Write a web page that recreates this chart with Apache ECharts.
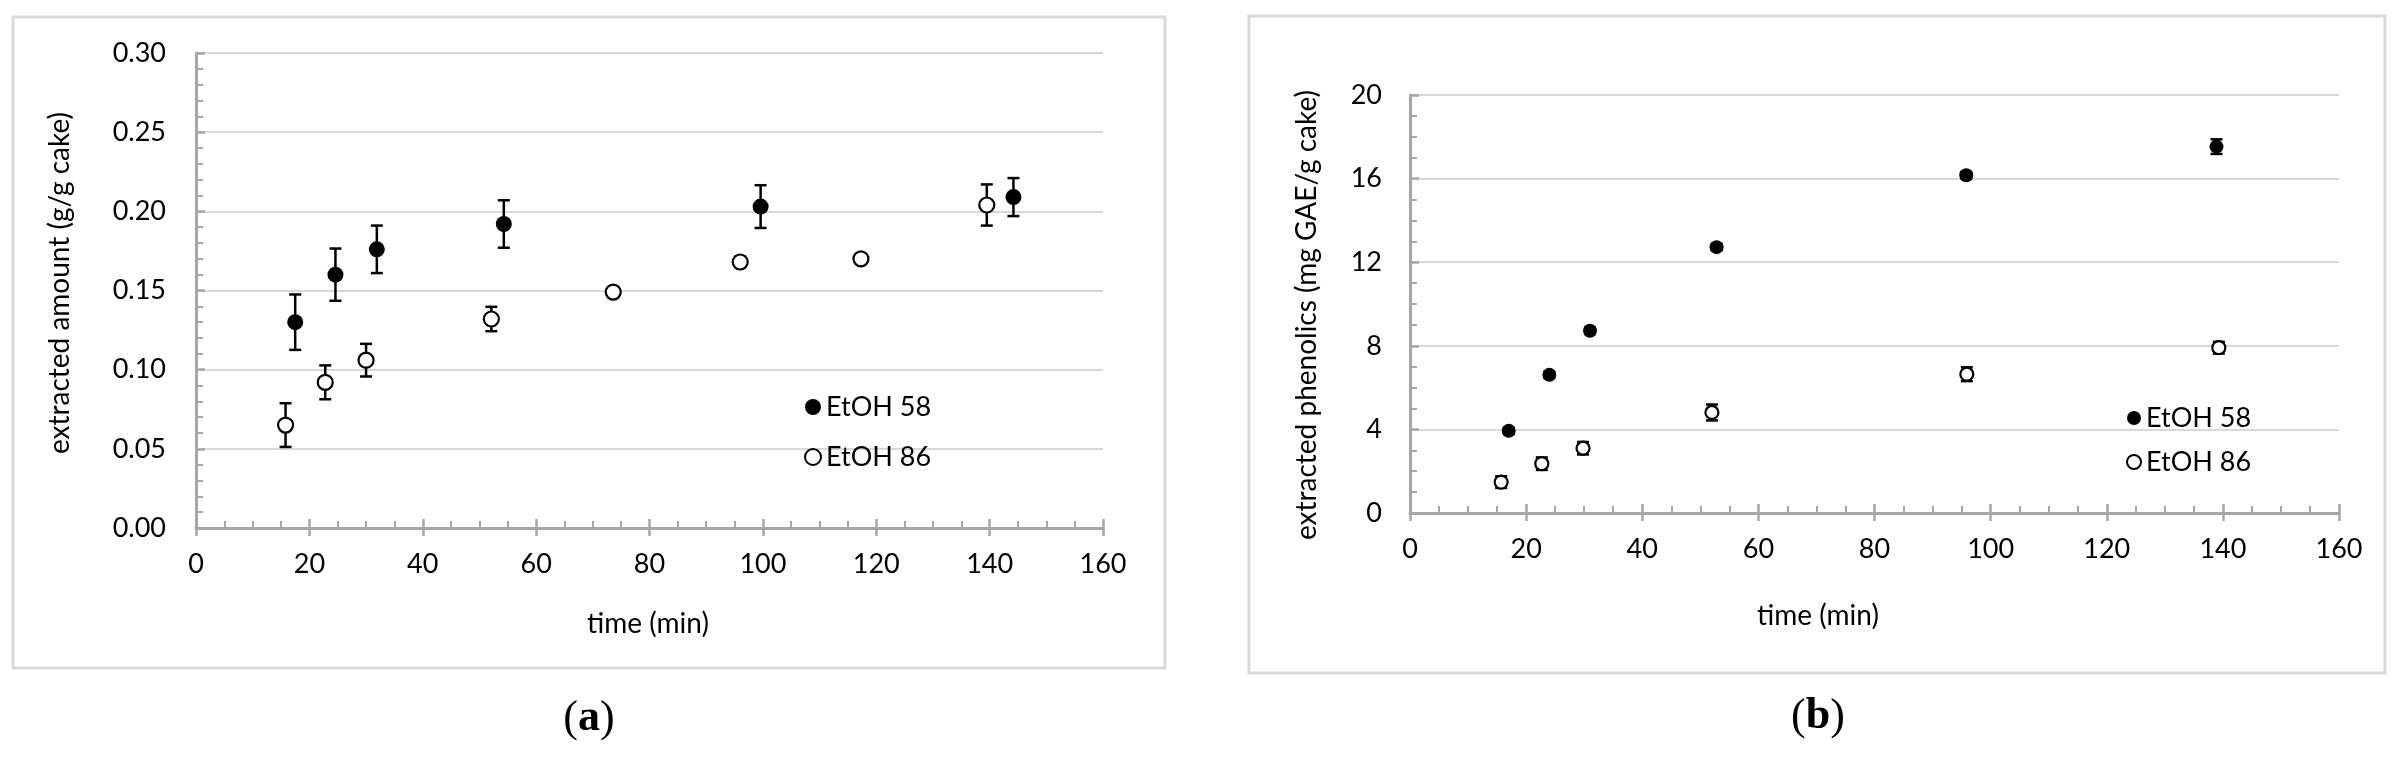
<!DOCTYPE html>
<html>
<head>
<meta charset="utf-8">
<script src="https://cdn.jsdelivr.net/npm/echarts@6/dist/echarts.min.js"></script>
<style>
    html, body { margin: 0; padding: 0; background: #fff; }
    #wrap { width: 2400px; height: 760px; position: relative; }
    .panel { position: absolute; top: 0; width: 1200px; height: 760px; }
</style>
</head>
<body>
<div id="wrap">
    <div id="chartA" class="panel" style="left:0"></div>
    <div id="chartB" class="panel" style="left:1200px"></div>
</div>
<script>
// (a) extracted amount, g/g cake
const timeA58 = [17.5, 24.6, 31.9, 54.3, 99.6, 144.2];
const amountA58 = [0.130, 0.160, 0.176, 0.192, 0.203, 0.209];
const errA58 = [0.0175, 0.0165, 0.015, 0.015, 0.0135, 0.012];

const timeA86 = [15.8, 22.8, 30.0, 52.1, 73.6, 96.0, 117.3, 139.5];
const amountA86 = [0.065, 0.092, 0.106, 0.132, 0.149, 0.168, 0.170, 0.204];
const errA86 = [0.0138, 0.0107, 0.0103, 0.0077, 0.002, 0.0034, 0.002, 0.013];

// (b) extracted phenolics, mg GAE/g cake
const timeB58 = [17.0, 24.0, 31.0, 52.8, 95.8, 138.9];
const phenB58 = [3.93, 6.61, 8.72, 12.72, 16.16, 17.53];
const errB58 = [0.15, 0.15, 0.15, 0.15, 0.15, 0.35];

const timeB86 = [15.7, 22.7, 29.8, 52.0, 95.9, 139.3];
const phenB86 = [1.48, 2.36, 3.10, 4.81, 6.64, 7.91];
const errB86 = [0.28, 0.3, 0.3, 0.38, 0.33, 0.28];

const seriesNames = ['EtOH 58', 'EtOH 86'];

const FONT = 'Lato, "Open Sans", sans-serif';
const SERIF = '"Liberation Serif", "DejaVu Serif", serif';
const AXIS_GREY = '#a6a6a6';
const GRID_GREY = '#d9d9d9';

function pairs(xs, ys) {
    return xs.map((x, i) => [x, ys[i]]);
}

function errRows(xs, ys, es) {
    return xs.map((x, i) => [x, ys[i] - es[i], ys[i] + es[i]]);
}

function errorBarSeries(data, cap) {
    return {
        type: 'custom',
        data: data,
        z: 1,
        silent: true,
        encode: {x: 0, y: [1, 2]},
        renderItem: function (params, api) {
            let x = api.value(0);
            let lo = api.coord([x, api.value(1)]);
            let hi = api.coord([x, api.value(2)]);
            let st = {stroke: '#000', lineWidth: 2.5};
            return {
                type: 'group',
                children: [
                    {type: 'line', shape: {x1: lo[0], y1: lo[1], x2: hi[0], y2: hi[1]}, style: st},
                    {type: 'line', shape: {x1: lo[0] - cap, y1: lo[1], x2: lo[0] + cap, y2: lo[1]}, style: st},
                    {type: 'line', shape: {x1: hi[0] - cap, y1: hi[1], x2: hi[0] + cap, y2: hi[1]}, style: st}
                ]
            };
        }
    };
}

function titleText(x, y, text, rotate) {
    return {
        type: 'text',
        x: x,
        y: y,
        rotation: rotate ? Math.PI / 2 : 0,
        style: {
            text: text,
            fill: '#000',
            fontFamily: FONT,
            fontSize: 28,
            align: 'center',
            verticalAlign: 'middle'
        }
    };
}

function buildOption(cfg) {
    let xBase = {
        type: 'value',
        min: 0,
        max: 160,
        interval: 20,
        position: 'bottom',
        splitLine: {show: false}
    };
    return {
        animation: false,
        backgroundColor: '#fff',
        textStyle: {fontFamily: FONT},
        grid: {left: cfg.grid.left, top: cfg.grid.top, width: cfg.grid.width, height: cfg.grid.height},
        legend: {
            data: seriesNames,
            orient: 'vertical',
            left: cfg.legend.left,
            top: cfg.legend.top,
            itemWidth: cfg.legend.icon,
            itemHeight: cfg.legend.icon,
            itemGap: cfg.legend.gap,
            selectedMode: false,
            textStyle: {fontFamily: FONT, fontSize: 27, color: '#000', lineHeight: 30}
        },
        xAxis: [
            Object.assign({}, xBase, {
                axisLine: {lineStyle: {color: AXIS_GREY, width: 3}},
                axisTick: {inside: true, length: 9, lineStyle: {color: AXIS_GREY, width: 2.5}},
                minorTick: {show: true, splitNumber: 4, length: 7, lineStyle: {color: AXIS_GREY, width: 2}},
                axisLabel: {fontFamily: FONT, fontSize: 27, color: '#000', margin: 23}
            }),
            // outer half of the major ticks, so they cross the axis line
            Object.assign({}, xBase, {
                axisLine: {show: false},
                axisTick: {inside: false, length: 8, lineStyle: {color: AXIS_GREY, width: 2.5}},
                axisLabel: {show: false}
            })
        ],
        yAxis: {
            type: 'value',
            min: 0,
            max: cfg.yMax,
            interval: cfg.yStep,
            axisLine: {show: true, lineStyle: {color: AXIS_GREY, width: 3}},
            axisTick: {show: true, inside: true, length: 9, lineStyle: {color: AXIS_GREY, width: 2.5}},
            minorTick: {show: true, splitNumber: cfg.yMinor, length: 7, lineStyle: {color: AXIS_GREY, width: 2}},
            splitLine: {show: true, lineStyle: {color: GRID_GREY, width: 2}},
            axisLabel: {
                fontFamily: FONT, fontSize: 27, color: '#000', margin: cfg.yLabelGap,
                formatter: cfg.yFormat
            }
        },
        graphic: [
            {
                type: 'rect',
                shape: cfg.frame,
                style: {fill: 'none', stroke: GRID_GREY, lineWidth: 3},
                z: -1
            },
            titleText(cfg.yTitle.x, cfg.yTitle.y, cfg.yTitle.text, true),
            titleText(cfg.xTitle.x, cfg.xTitle.y, 'time (min)', false),
            {
                type: 'text',
                x: cfg.caption.x,
                y: cfg.caption.y,
                style: {
                    text: '{p|(}{b|' + cfg.caption.letter + '}{p|)}',
                    align: 'center',
                    verticalAlign: 'middle',
                    rich: {
                        p: {fontFamily: SERIF, fontSize: 44, fill: '#000'},
                        b: {fontFamily: SERIF, fontSize: 44, fontWeight: 'bold', fill: '#000'}
                    }
                }
            }
        ],
        series: [
            errorBarSeries(cfg.err58, cfg.cap),
            errorBarSeries(cfg.err86, cfg.cap),
            {
                name: 'EtOH 58',
                type: 'scatter',
                z: 3,
                symbol: 'circle',
                symbolSize: cfg.size58,
                itemStyle: {color: '#000', opacity: 1},
                data: cfg.data58
            },
            {
                name: 'EtOH 86',
                type: 'scatter',
                z: 3,
                symbol: 'circle',
                symbolSize: cfg.size86,
                itemStyle: {color: '#fff', borderColor: '#000', borderWidth: 2.2, opacity: 1},
                data: cfg.data86
            }
        ]
    };
}

let chartA = echarts.init(document.getElementById('chartA'));
chartA.setOption(buildOption({
    grid: {left: 196, top: 53, width: 907, height: 475},
    yMax: 0.30,
    yStep: 0.05,
    yMinor: 5,
    yLabelGap: 30,
    yFormat: function (v) { return v.toFixed(2); },
    legend: {left: 799, top: 387, icon: 16, gap: 20},
    frame: {x: 13, y: 17, width: 1152, height: 651},
    yTitle: {x: 60, y: 283, text: 'extracted amount (g/g cake)'},
    xTitle: {x: 648, y: 624},
    caption: {x: 589, y: 719, letter: 'a'},
    cap: 6,
    size58: 16,
    size86: 15,
    data58: pairs(timeA58, amountA58),
    data86: pairs(timeA86, amountA86),
    err58: errRows(timeA58, amountA58, errA58),
    err86: errRows(timeA86, amountA86, errA86)
}));

let chartB = echarts.init(document.getElementById('chartB'));
chartB.setOption(buildOption({
    grid: {left: 210, top: 95, width: 929, height: 418},
    yMax: 20,
    yStep: 4,
    yMinor: 4,
    yLabelGap: 28,
    yFormat: function (v) { return String(v); },
    legend: {left: 921, top: 398, icon: 14, gap: 14},
    frame: {x: 49, y: 16, width: 1136, height: 657},
    yTitle: {x: 107, y: 315, text: 'extracted phenolics (mg GAE/g cake)'},
    xTitle: {x: 618, y: 616},
    caption: {x: 618, y: 717, letter: 'b'},
    cap: 6,
    size58: 14,
    size86: 13,
    data58: pairs(timeB58, phenB58),
    data86: pairs(timeB86, phenB86),
    err58: errRows(timeB58, phenB58, errB58),
    err86: errRows(timeB86, phenB86, errB86)
}));
</script>
</body>
</html>
